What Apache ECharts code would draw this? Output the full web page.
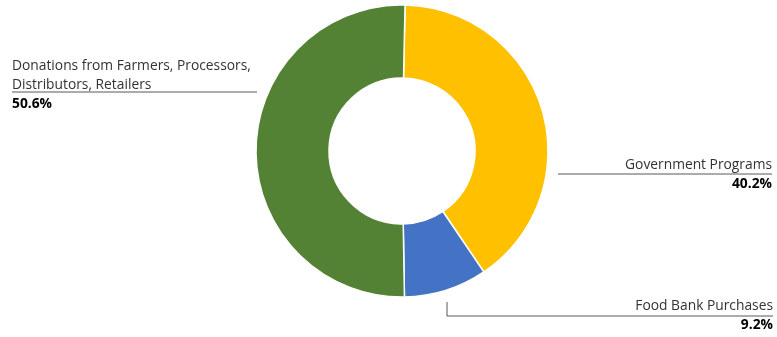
<!DOCTYPE html>
<html>
<head>
<meta charset="utf-8">
<script src="https://cdn.jsdelivr.net/npm/echarts@6/dist/echarts.min.js"></script>
<style>
	html, body { margin: 0; padding: 0; background: #fff; }
	#main { width: 777px; height: 337px; }
</style>
</head>
<body>
<div id="main"></div>
<script>
	// data
	var categories = ['Government Programs', 'Food Bank Purchases', 'Donations from Farmers, Processors,\nDistributors, Retailers']
	var shares = [40.2, 9.2, 50.6]
	var colors = ['#FFC000', '#4472C4', '#548235']

	// where each label sits and how its leader line runs
	var labelSpots = [
		{ x: 772, y: 155.5, align: 'right', line: [[558, 174], [665, 174], [772, 174]] },
		{ x: 773, y: 296.5, align: 'right', line: [[447, 302], [447, 316], [773, 316]] },
		{ x: 12, y: 56.5, align: 'left', line: [[257, 92], [135, 92], [12, 92]] }
	]

	var chart = echarts.init(document.getElementById('main'))
	chart.setOption({
		animation: false,
		series: [{
			type: 'pie',
			center: [402, 151],
			radius: [73, 146],
			startAngle: 88.8,
			clockwise: true,
			percentPrecision: 1,
			avoidLabelOverlap: false,
			itemStyle: { borderColor: '#fff', borderWidth: 1.5 },
			emphasis: { disabled: true },
			label: {
				show: true,
				formatter: '{name|{b}}\n{pct|{d}%}',
				fontFamily: 'Open Sans',
				rich: {
					name: { fontFamily: 'Open Sans', fontSize: 13.8, lineHeight: 19, color: '#333' },
					pct: { fontFamily: 'Open Sans', fontSize: 13.8, lineHeight: 20, fontWeight: 'bold', color: '#000' }
				}
			},
			labelLine: { show: true, lineStyle: { color: '#595959', width: 1 } },
			labelLayout: function (params) {
				var s = labelSpots[params.dataIndex]
				return {
					x: s.x,
					y: s.y,
					align: s.align,
					verticalAlign: 'top',
					labelLinePoints: s.line
				}
			},
			data: categories.map(function (name, i) {
				return {
					name: name,
					value: shares[i],
					itemStyle: { color: colors[i] },
					label: { align: labelSpots[i].align }
				}
			})
		}]
	})
</script>
</body>
</html>
